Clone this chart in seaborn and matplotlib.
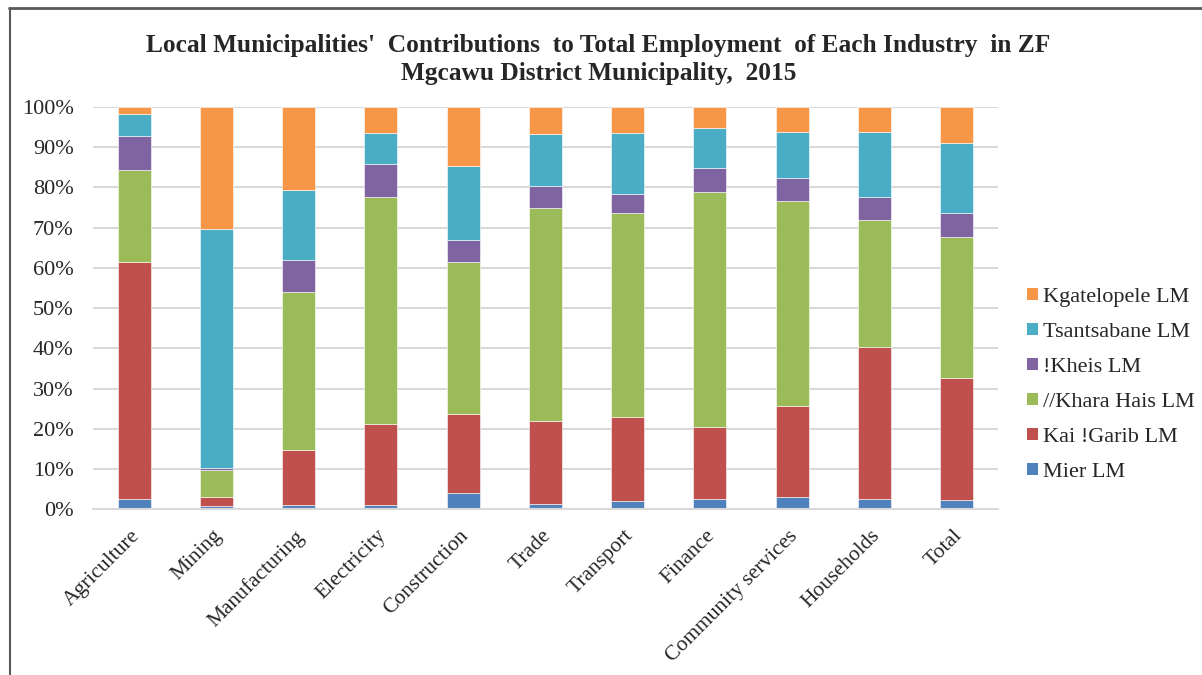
import matplotlib
matplotlib.use("Agg")
import matplotlib.pyplot as plt
import matplotlib.transforms as mtransforms
import seaborn as sns
import numpy as np
from matplotlib.patches import Patch
from matplotlib.lines import Line2D

categories = ["Agriculture", "Mining", "Manufacturing", "Electricity", "Construction",
              "Trade", "Transport", "Finance", "Community services", "Households", "Total"]
mier =        [2.7, 0.75, 1.1, 1.1, 4.2, 1.4, 2.1, 2.7, 3.1, 2.7, 2.4]
kai_garib =   [58.9, 2.35, 13.7, 20.2, 19.5, 20.6, 20.9, 17.8, 22.7, 37.7, 30.2]
khara_hais =  [22.7, 6.7, 39.2, 56.3, 37.9, 52.9, 50.6, 58.3, 50.8, 31.4, 35.1]
kheis =       [8.4, 0.6, 7.9, 8.3, 5.4, 5.5, 4.7, 6.1, 5.8, 5.8, 5.9]
tsantsabane = [5.6, 59.4, 17.5, 7.6, 18.3, 12.8, 15.2, 10.0, 11.4, 16.2, 17.5]
kgatelopele = [1.7, 30.2, 20.6, 6.5, 14.7, 6.8, 6.5, 5.1, 6.2, 6.2, 8.9]

series_names = ["Mier LM", "Kai !Garib LM", "//Khara Hais LM", "!Kheis LM",
                "Tsantsabane LM", "Kgatelopele LM"]
series_vals = [mier, kai_garib, khara_hais, kheis, tsantsabane, kgatelopele]
colors = ["#4F81BD", "#C0504D", "#9BBB59", "#8064A2", "#4BACC6", "#F79646"]

sns.set_theme(style="white")
plt.rcParams['font.family'] = ['Liberation Serif', 'DejaVu Serif']

fig = plt.figure(figsize=(12.02, 6.75), dpi=100)
ax = fig.add_axes([0.0774, 0.2452, 0.7526, 0.5963])

bottom = np.zeros(len(categories))
for name, vals, col in zip(series_names, series_vals, colors):
    sns.barplot(x=categories, y=vals, bottom=bottom, color=col, width=0.4,
                ax=ax, edgecolor="white", linewidth=0.4, saturation=1)
    bottom = bottom + np.array(vals)

ax.set_ylim(0, 100)
ax.set_xlim(-0.5, len(categories) - 0.5)
ax.set_yticks(np.arange(0, 101, 10))
ax.set_yticklabels([f"{v}%" for v in range(0, 101, 10)], fontsize=16)
ax.yaxis.grid(True, color="#D9D9D9", linewidth=1.5)
ax.set_axisbelow(True)
for s in ["top", "right", "left"]:
    ax.spines[s].set_visible(False)
ax.spines["bottom"].set_color("#D9D9D9")
ax.spines["bottom"].set_linewidth(1.5)
ax.tick_params(axis="y", length=0, pad=14)
ax.tick_params(axis="x", length=0, pad=10)
ax.set_xticks(range(len(categories)))
ax.set_xticklabels(categories, rotation=45, ha="right", rotation_mode="anchor", fontsize=15.5)
offset = mtransforms.ScaledTranslation(-4 / 100, -3 / 100, fig.dpi_scale_trans)
for lbl in ax.get_xticklabels():
    lbl.set_transform(lbl.get_transform() + offset)
ax.set_xlabel("")
ax.set_ylabel("")

fig.text(0.498, 0.912, "Local Municipalities'  Contributions  to Total Employment  of Each Industry  in ZF\nMgcawu District Municipality,  2015",
         ha="center", va="center", fontsize=18.3, fontweight="bold", linespacing=1.25)

handles = [Patch(facecolor=c, edgecolor="none") for c in colors][::-1]
labels = series_names[::-1]
fig.legend(handles, labels, loc="center left", bbox_to_anchor=(0.854, 0.43),
           frameon=False, fontsize=16, handlelength=0.5, handleheight=0.5,
           handletextpad=0.25, labelspacing=0.71, borderpad=0, borderaxespad=0)

fig.add_artist(Line2D([0.0075, 1.0], [0.988, 0.988], color="#595959", linewidth=2))
fig.add_artist(Line2D([0.0083, 0.0083], [0.0, 0.988], color="#595959", linewidth=1.5))

fig.savefig("out.png", dpi=100)
